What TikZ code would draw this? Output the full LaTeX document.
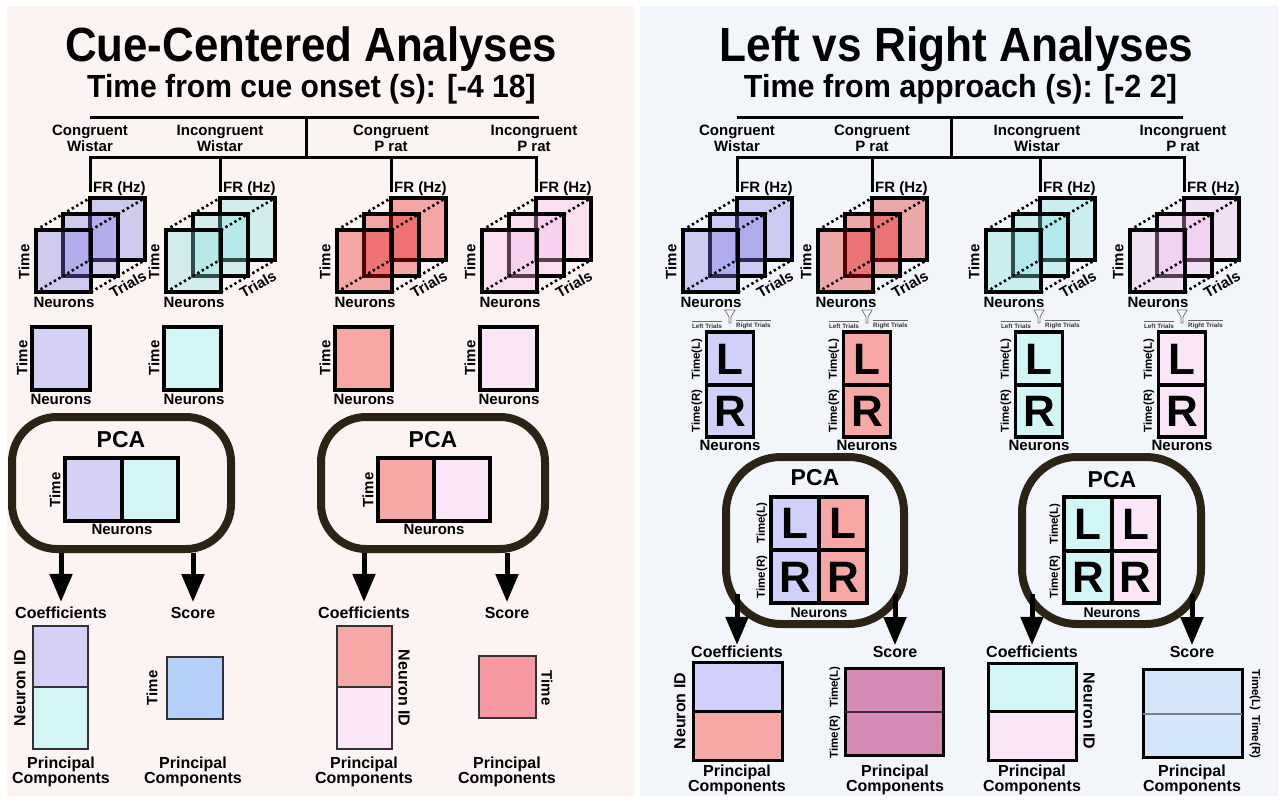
\documentclass[tikz,border=0pt]{standalone}
\usepackage{fontspec}
\usepackage{graphicx}
\setmainfont{Liberation Sans}
\usetikzlibrary{arrows.meta}
\definecolor{bgL}{HTML}{FCF4F2}
\definecolor{bgR}{HTML}{F2F6FA}
\definecolor{lav}{HTML}{D4D0F6}
\definecolor{lavR}{HTML}{D0D0FA}
\definecolor{cyn}{HTML}{D2F5F6}
\definecolor{sal}{HTML}{F7A7A6}
\definecolor{pnk}{HTML}{FBE6F8}
\definecolor{lavS}{RGB}{128,121,232}
\definecolor{cynS}{RGB}{132,226,226}
\definecolor{salS}{RGB}{230,20,20}
\definecolor{pnkS}{RGB}{244,184,235}
\definecolor{scoreA}{HTML}{B4D0F8}
\definecolor{scoreB}{HTML}{F898A2}
\definecolor{scoreC}{HTML}{D48CB4}
\definecolor{scoreD}{HTML}{D4E6F8}
\definecolor{pcaline}{HTML}{2B2416}
\newcommand{\drawcube}[2]{%
  \begin{scope}[shift={(#1,0)}]
    \filldraw[cubeface, fill=#2] (0,198) rectangle (55,260);
    \filldraw[cubeface, fill=#2] (-27,214) rectangle (28,276);
    \filldraw[cubeface, fill=#2] (-54,230) rectangle (1,292);
    \draw[dotln] (-54,230) -- (0,198);
    \draw[dotln] (1,230) -- (55,198);
    \draw[dotln] (-54,292) -- (0,260);
    \draw[dotln] (1,292) -- (55,260);
  \end{scope}}
\newcommand{\cubelabels}[2]{%
  \node[lbl, anchor=west] (fr#2) at (#1+3,189) {FR (Hz)};
  \node[lbl, rotate=90] (tm#2) at (#1-66,262) {Time};
  \node[lbl] (nr#2) at (#1-26,302) {Neurons};
  \node[lbl, rotate=30] (tr#2) at (#1+38,284) {Trials};}
\newcommand{\lrmat}[3]{%
  \filldraw[mat, fill=#2] (#1-23.5,332) rectangle (#1+23.5,385);
  \filldraw[mat, fill=#2] (#1-23.5,385) rectangle (#1+23.5,437);
  \node[big] (L#3) at (#1,359) {L};
  \node[big] (R#3) at (#1,411) {R};
  \node[tl, rotate=90] (tL#3) at (#1-33,359) {Time(L)};
  \node[tl, rotate=90] (tR#3) at (#1-33,411) {Time(R)};
  \node[lbl] (n#3) at (#1,445) {Neurons};
  \filldraw[funnel] (#1-5,310) -- (#1+5,310) -- (#1+1,317) -- (#1+1,323) -- (#1-1,323) -- (#1-1,317) -- cycle;
  \node[tiny, anchor=east] (lt#3) at (#1-8,326) {Left Trials};
  \node[tiny, anchor=west] (rt#3) at (#1+6,326) {Right Trials};
  \draw[ovl] ([yshift=2pt]lt#3.north west) -- ([yshift=2pt]lt#3.north east);
  \draw[ovl] ([yshift=2pt]rt#3.north west) -- ([yshift=2pt]rt#3.north east);}
\begin{document}
\begin{tikzpicture}[x=1pt,y=-1pt,
  lbl/.style={font=\fontsize{15}{16}\selectfont\bfseries, inner sep=0, align=center},
  lblb/.style={font=\fontsize{16}{12}\selectfont\bfseries, inner sep=0, align=center},
  tl/.style={font=\fontsize{11.5}{12}\selectfont\bfseries, inner sep=0},
  big/.style={font=\fontsize{44}{44}\selectfont\bfseries, inner sep=0},
  pcat/.style={font=\fontsize{23}{23}\selectfont\bfseries, inner sep=0},
  tiny/.style={font=\fontsize{6.3}{7}\selectfont\bfseries, inner sep=0, text=black!80},
  ovl/.style={draw=black!60, line width=1.2},
  funnel/.style={fill=white, draw=black!55, line width=0.8},
  tree/.style={line width=3, line cap=rect},
  cubeface/.style={draw=black, line width=3.5, fill opacity=0.35},
  dotln/.style={line width=2.6, dash pattern=on 2.4pt off 2.8pt},
  mat/.style={draw=black, line width=3.5},
  thinmat/.style={draw=black!80, line width=2},
  pcabox/.style={draw=pcaline, line width=8, rounded corners=45, inner sep=0},
  arr/.style={line width=5, -{Triangle[width=22pt,length=28pt]}}
]
\useasboundingbox (0,0) rectangle (1283,800);
\fill[bgL] (7,6) rectangle (634,796);
\fill[bgR] (640,6) rectangle (1278,796);

% ---------- titles
\node[anchor=base, inner sep=0] (titleL) at (311,62) {\fontsize{48}{48}\selectfont\bfseries\scalebox{0.913}[1]{Cue-Centered Analyses}};
\node[anchor=base, inner sep=0] (subL) at (311.5,97) {\fontsize{32}{32}\selectfont\bfseries\scalebox{0.94}[1]{Time from cue onset (s): [-4 18]}};
\node[anchor=base, inner sep=0] (titleR) at (956.5,62) {\fontsize{48}{48}\selectfont\bfseries\scalebox{0.92}[1]{Left vs Right Analyses}};
\node[anchor=base, inner sep=0] (subR) at (960.5,97) {\fontsize{32}{32}\selectfont\bfseries\scalebox{0.954}[1]{Time from approach (s): [-2 2]}};

% ---------- left tree
\coordinate (LtA) at (91,117); \coordinate (LtB) at (537,117);
\coordinate (LtM) at (306,117); \coordinate (LtN) at (306,157);
\coordinate (LsA) at (90,157); \coordinate (LsB) at (536,157);
\draw[tree] (LtA) -- (LtB);
\draw[tree] (LtM) -- (LtN);
\draw[tree] (LsA) -- (LsB);
\foreach \bx/\i in {90/1,220/2,391/3,536/4}{
  \coordinate (Lbt\i) at (\bx,157); \coordinate (Lbb\i) at (\bx,190);
  \draw[tree] (Lbt\i) -- (Lbb\i);}
\node[lbl] (gL1) at (90,138) {Congruent\\Wistar};
\node[lbl] (gL2) at (220,138) {Incongruent\\Wistar};
\node[lbl] (gL3) at (391,138) {Congruent\\P rat};
\node[lbl] (gL4) at (534,138) {Incongruent\\P rat};

% ---------- right tree
\coordinate (RtA) at (738,117); \coordinate (RtB) at (1181,117);
\coordinate (RtM) at (951,117); \coordinate (RtN) at (951,157);
\coordinate (RsA) at (737,157); \coordinate (RsB) at (1184,157);
\draw[tree] (RtA) -- (RtB);
\draw[tree] (RtM) -- (RtN);
\draw[tree] (RsA) -- (RsB);
\foreach \bx/\i in {737/1,872/2,1040/3,1184/4}{
  \coordinate (Rbt\i) at (\bx,157); \coordinate (Rbb\i) at (\bx,190);
  \draw[tree] (Rbt\i) -- (Rbb\i);}
\node[lbl] (gR1) at (737,138) {Congruent\\Wistar};
\node[lbl] (gR2) at (872,138) {Congruent\\P rat};
\node[lbl] (gR3) at (1037,138) {Incongruent\\Wistar};
\node[lbl] (gR4) at (1183,138) {Incongruent\\P rat};

% ---------- cubes
\drawcube{90}{lavS}   \cubelabels{90}{L1}
\drawcube{220}{cynS}  \cubelabels{220}{L2}
\drawcube{391}{salS}  \cubelabels{391}{L3}
\drawcube{536}{pnkS}  \cubelabels{536}{L4}
\drawcube{737}{lavS}  \cubelabels{737}{R1}
\drawcube{872}{salS}  \cubelabels{872}{R2}
\drawcube{1040}{cynS} \cubelabels{1040}{R3}
\drawcube{1184}{pnkS} \cubelabels{1184}{R4}

% ---------- left 2D matrices
\filldraw[mat, fill=lav] (32,327) rectangle (90,390);
\filldraw[mat, fill=cyn] (164,327) rectangle (221,390);
\filldraw[mat, fill=sal] (335,327) rectangle (392,390);
\filldraw[mat, fill=pnk] (480,327) rectangle (537,390);
\node[lbl, rotate=90] (mt1) at (22,358) {Time};
\node[lbl, rotate=90] (mt2) at (154,358) {Time};
\node[lbl, rotate=90] (mt3) at (325,358) {Time};
\node[lbl, rotate=90] (mt4) at (470,358) {Time};
\node[lbl] (mn1) at (61,399) {Neurons};
\node[lbl] (mn2) at (194,399) {Neurons};
\node[lbl] (mn3) at (364,399) {Neurons};
\node[lbl] (mn4) at (509,399) {Neurons};

% ---------- left PCA boxes
\node[pcabox, minimum width=219, minimum height=132] (pcaL1) at (121.5,483) {};
\node[pcat] (pL1) at (121,440) {PCA};
\filldraw[mat, fill=lav] (65,458) rectangle (122,521);
\filldraw[mat, fill=cyn] (122,458) rectangle (178,521);
\node[lbl, rotate=90] (pLt1) at (55,490) {Time};
\node[lbl] (pLn1) at (122,529) {Neurons};

\node[pcabox, minimum width=224, minimum height=132] (pcaL2) at (433,483) {};
\node[pcat] (pL2) at (433,440) {PCA};
\filldraw[mat, fill=sal] (378,458) rectangle (434,521);
\filldraw[mat, fill=pnk] (434,458) rectangle (490,521);
\node[lbl, rotate=90] (pLt2) at (368,490) {Time};
\node[lbl] (pLn2) at (434,529) {Neurons};

% ---------- left outputs
\node[lblb] (cfL1) at (61,613) {Coefficients};
\node[lblb] (scL1) at (193,613) {Score};
\node[lblb] (cfL2) at (364,613) {Coefficients};
\node[lblb] (scL2) at (507,613) {Score};
\draw[arr] (pcaL1.south -| cfL1) -- ([yshift=5pt]cfL1.north);
\draw[arr] (pcaL1.south -| scL1) -- ([yshift=5pt]scL1.north);
\draw[arr] (pcaL2.south -| cfL2) -- ([yshift=5pt]cfL2.north);
\draw[arr] (pcaL2.south -| scL2) -- ([yshift=5pt]scL2.north);

\filldraw[thinmat, fill=lav] (33,626) rectangle (88,687);
\filldraw[thinmat, fill=cyn] (33,687) rectangle (88,749);
\node[lblb, rotate=90] (niL1) at (20,688) {Neuron ID};
\filldraw[thinmat, fill=scoreA] (167,657) rectangle (223,719);
\node[lbl, rotate=90] (stL1) at (152,688) {Time};
\filldraw[thinmat, fill=sal] (337,626) rectangle (392,687);
\filldraw[thinmat, fill=pnk] (337,687) rectangle (392,749);
\node[lblb, rotate=-90] (niL2) at (404,688) {Neuron ID};
\filldraw[thinmat, fill=scoreB] (479,656) rectangle (536,718);
\node[lbl, rotate=-90] (stL2) at (547,688) {Time};
\node[lblb] (pcL1) at (61,772) {Principal\\Components};
\node[lblb] (pcL2) at (193,772) {Principal\\Components};
\node[lblb] (pcL3) at (364,772) {Principal\\Components};
\node[lblb] (pcL4) at (507,772) {Principal\\Components};

% ---------- right LR matrices
\lrmat{730}{lavR}{1}
\lrmat{867}{sal}{2}
\lrmat{1039}{cyn}{3}
\lrmat{1182}{pnk}{4}

% ---------- right PCA boxes
\node[pcabox, rounded corners=55, minimum width=178, minimum height=167] (pcaR1) at (815,540.5) {};
\node[pcat] (pR1) at (815,478) {PCA};
\filldraw[mat, fill=lavR] (771,497) rectangle (819,550);
\filldraw[mat, fill=sal] (819,497) rectangle (867,550);
\filldraw[mat, fill=lavR] (771,550) rectangle (819,603);
\filldraw[mat, fill=sal] (819,550) rectangle (867,603);
\node[big] (pRa1) at (795,523) {L};
\node[big] (pRb1) at (843,523) {L};
\node[big] (pRc1) at (795,577) {R};
\node[big] (pRd1) at (843,577) {R};
\node[tl, rotate=90] (pRtl1) at (762,523) {Time(L)};
\node[tl, rotate=90] (pRtr1) at (762,577) {Time(R)};
\node[font=\fontsize{14}{14}\selectfont\bfseries, inner sep=0] (pRn1) at (819,613) {Neurons};

\node[pcabox, rounded corners=55, minimum width=179, minimum height=167] (pcaR2) at (1111.5,540.5) {};
\node[pcat] (pR2) at (1112,480) {PCA};
\filldraw[mat, fill=cyn] (1064,497) rectangle (1112,551);
\filldraw[mat, fill=pnk] (1112,497) rectangle (1159,551);
\filldraw[mat, fill=cyn] (1064,551) rectangle (1112,603);
\filldraw[mat, fill=pnk] (1112,551) rectangle (1159,603);
\node[big] (pRa2) at (1088,524) {L};
\node[big] (pRb2) at (1135.5,524) {L};
\node[big] (pRc2) at (1088,577) {R};
\node[big] (pRd2) at (1135.5,577) {R};
\node[tl, rotate=90] (pRtl2) at (1055,524) {Time(L)};
\node[tl, rotate=90] (pRtr2) at (1055,577) {Time(R)};
\node[font=\fontsize{14}{14}\selectfont\bfseries, inner sep=0] (pRn2) at (1112,613) {Neurons};

% ---------- right outputs
\node[lblb] (cfR1) at (737,652) {Coefficients};
\node[lblb] (scR1) at (895,652) {Score};
\node[lblb] (cfR2) at (1032,652) {Coefficients};
\node[lblb] (scR2) at (1192,652) {Score};
\draw[arr] ([yshift=34pt]pcaR1.south -| cfR1) -- ([yshift=1pt]cfR1.north);
\draw[arr] ([yshift=34pt]pcaR1.south -| scR1) -- ([yshift=1pt]scR1.north);
\draw[arr] ([yshift=34pt]pcaR2.south -| cfR2) -- ([yshift=1pt]cfR2.north);
\draw[arr] ([yshift=34pt]pcaR2.south -| scR2) -- ([yshift=1pt]scR2.north);

\filldraw[mat, line width=3, fill=lavR] (693,662) rectangle (782,711);
\filldraw[mat, line width=3, fill=sal] (693,711) rectangle (782,760);
\node[lblb, rotate=90] (niR1) at (680,711) {Neuron ID};
\filldraw[mat, line width=3, fill=scoreC] (845,668) rectangle (943,755);
\draw[line width=2, draw=black!70!scoreC] (845,712) -- (943,712);
\node[tl, rotate=90] (stlR1) at (835,687) {Time(L)};
\node[tl, rotate=90] (strR1) at (835,737) {Time(R)};

\filldraw[mat, line width=3, fill=cyn] (988,663) rectangle (1076,711);
\filldraw[mat, line width=3, fill=pnk] (988,711) rectangle (1076,760);
\node[lblb, rotate=-90] (niR2) at (1089,711) {Neuron ID};
\filldraw[mat, line width=3, fill=scoreD] (1143,669) rectangle (1242,757);
\draw[line width=1.6, draw=black!45!scoreD] (1143,714) -- (1242,714);
\node[tl, rotate=-90] (stlR2) at (1255,690) {Time(L)};
\node[tl, rotate=-90] (strR2) at (1255,737) {Time(R)};

\node[lblb] (pcR1) at (737,780) {Principal\\Components};
\node[lblb] (pcR2) at (895,780) {Principal\\Components};
\node[lblb] (pcR3) at (1032,780) {Principal\\Components};
\node[lblb] (pcR4) at (1192,780) {Principal\\Components};
\end{tikzpicture}
\end{document}
